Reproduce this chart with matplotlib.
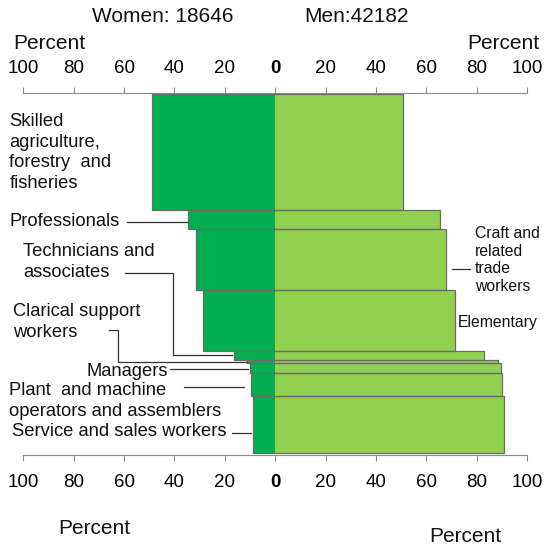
import matplotlib.pyplot as plt
from matplotlib.lines import Line2D
from matplotlib.patches import Rectangle
import numpy as np

plt.rcParams['font.family'] = ['Liberation Sans', 'DejaVu Sans']

# occupation groups from top to bottom
occupations = ["Skilled agriculture", "Professionals", "Craft and related trade workers",
               "Elementary", "Technicians and associates", "Clerical support workers",
               "Managers", "Plant and machine operators", "Service and sales workers"]
# share of all employed in each group (bar height, percent)
share = [32.2, 5.2, 17.1, 17.1, 2.4, 0.9, 2.6, 6.4, 16.1]
# percent women / men within each group
women = [48.9, 34.5, 31.5, 28.6, 16.4, 11.0, 10.0, 9.6, 8.7]
men = [50.8, 65.5, 68.0, 71.3, 83.0, 88.3, 89.6, 90.1, 90.8]
ticks = [-100, -80, -60, -40, -20, 0, 20, 40, 60, 80, 100]

dark = '#00B050'
light = '#92D050'
edge = '#6b6b6b'
W, H = 546, 545

fig = plt.figure(figsize=(5.46, 5.45), dpi=100)
ax = fig.add_axes([23.3 / W, 1 - 455 / H, (527 - 23.3) / W, (455 - 93.3) / H])

tops = np.concatenate([[0], np.cumsum(share)[:-1]])
centers = tops + np.array(share) / 2
ax.barh(centers, [-w for w in women], height=share, color=dark, linewidth=0)
ax.barh(centers, men, height=share, color=light, linewidth=0)
for t, s, w, m in zip(tops, share, women, men):
    ax.add_patch(Rectangle((-w, t), w + m, s, fill=False, edgecolor=edge, linewidth=0.9))

ax.set_xlim(-100, 100)
ax.set_ylim(100.47, -0.28)
for side in ['left', 'right', 'top']:
    ax.spines[side].set_visible(False)
ax.spines['bottom'].set_color('#8c8c8c')
ax.set_yticks([])

labels = [str(abs(t)) for t in ticks]
ax.set_xticks(ticks)
ax.set_xticklabels(labels, fontsize=13.5)
ax.tick_params(axis='x', direction='out', length=4.5, width=0.8, color='#8c8c8c', pad=9.5)

top = ax.secondary_xaxis('top')
top.set_xticks(ticks)
top.set_xticklabels(labels, fontsize=13.5)
top.tick_params(axis='x', direction='out', length=4.5, width=0.8, color='#8c8c8c', pad=7)
top.spines['top'].set_color('#8c8c8c')
for lab in ax.get_xticklabels() + top.get_xticklabels():
    if lab.get_text() == '0':
        lab.set_fontweight('bold')


def put(px, py, s, size, ha='left', ls=1.3):
    fig.text(px / W, 1 - py / H, s, fontsize=size, ha=ha, va='center',
             linespacing=ls, color='#111111')


def lead(xs, ys):
    fig.add_artist(Line2D([x / W for x in xs], [1 - y / H for y in ys],
                          color='#333333', linewidth=0.9))


put(162.5, 17, "Women: 18646", 15, ha='center')
put(357, 17, "Men:42182", 15, ha='center')
put(49.5, 43, "Percent", 15, ha='center')
put(503.5, 43, "Percent", 15, ha='center')
put(94.5, 528, "Percent", 15, ha='center')
put(465.5, 537, "Percent", 15, ha='center')

put(9.3, 152.5, "Skilled\nagriculture,\nforestry  and\nfisheries", 13.2)
put(9.3, 221, "Professionals", 13.2)
put(23.3, 262, "Technicians and\nassociates", 13.2)
put(12.7, 321.7, "Clarical support\nworkers", 13.2)
put(86, 371.7, "Managers", 13.2)
put(9.3, 401, "Plant  and machine\noperators and assemblers", 13.2)
put(11.7, 431.7, "Service and sales workers", 13.2)
put(475, 260, "Craft and\nrelated\ntrade\nworkers", 11.3, ls=1.22)
put(457.3, 322.7, "Elementary", 11.3)

lead([126.7, 188.3], [222, 222])
lead([125, 173.3, 173.3, 232], [272.7, 272.7, 355, 355])
lead([109.3, 118.3, 118.3, 246.7], [330, 330, 361.7, 361.7])
lead([170, 248], [369.3, 369.3])
lead([184, 244.3], [387.3, 387.3])
lead([232.3, 250.7], [433.3, 433.3])
lead([451.7, 470], [269, 269])

fig.savefig("out.png", dpi=100)
